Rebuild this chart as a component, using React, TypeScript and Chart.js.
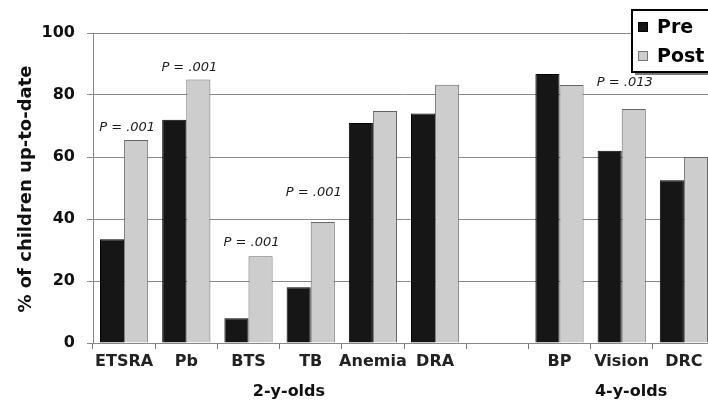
import React, { useEffect, useRef } from "react";
import { Chart, registerables } from "chart.js";

Chart.register(...registerables);

const categories = ["ETSRA", "Pb", "BTS", "TB", "Anemia", "DRA", "", "BP", "Vision", "DRC"];
const preValues = [33.5, 72, 8, 18, 71, 74, null, 86.8, 62, 52.5];
const postValues = [65.5, 85, 28, 39, 74.8, 83.3, null, 83.2, 75.5, 60];
const yTicks = [0, 20, 40, 60, 80, 100];

const annotCategory = [0, 1, 2, 3, 8];
const annotText = ["P = .001", "P = .001", "P = .001", "P = .001", "P = .013"];
const annotLevel = [69.4, 88.7, 32.3, 48.4, 84];

const groupLabels = ["2-y-olds", "4-y-olds"];
const groupPositions = [2.65, 8.15];

const legendLabels = ["Pre", "Post"];
const preColor = "#161616";
const postColor = "#cdcdcd";

const FONT = "'DejaVu Sans', sans-serif";

const overlayPlugin = {
  id: "overlay",
  afterDraw(chart: any) {
    const ctx = chart.ctx;
    const x = chart.scales.x;
    const y = chart.scales.y;
    const area = chart.chartArea;
    ctx.save();
    // P annotations
    ctx.font = `oblique 13px ${FONT}`;
    ctx.fillStyle = "#1a1a1a";
    ctx.textAlign = "center";
    ctx.textBaseline = "middle";
    const meta = chart.getDatasetMeta(1);
    annotCategory.forEach((c, i) => {
      const bar = meta.data[c];
      const cx = bar.x - 9;
      ctx.fillText(annotText[i], cx, y.getPixelForValue(annotLevel[i]));
    });
    // group labels
    ctx.font = `bold 16px ${FONT}`;
    ctx.fillStyle = "#111";
    groupLabels.forEach((g, i) => {
      ctx.fillText(g, x.getPixelForValue(groupPositions[i]), 392);
    });
    // y title
    ctx.save();
    ctx.translate(26, (area.top + area.bottom) / 2 + 1);
    ctx.rotate(-Math.PI / 2);
    ctx.font = `bold 18px ${FONT}`;
    ctx.fillText("% of children up-to-date", 0, 0);
    ctx.restore();
    // legend
    const lx = 632, ly = 10, lw = 84, lh = 62;
    ctx.fillStyle = "#777";
    ctx.fillRect(lx + 3, ly + 3, lw, lh);
    ctx.fillStyle = "#fff";
    ctx.fillRect(lx, ly, lw, lh);
    ctx.lineWidth = 2;
    ctx.strokeStyle = "#000";
    ctx.strokeRect(lx, ly, lw, lh);
    const colors = [preColor, postColor];
    const strokes = ["#000", "#777"];
    legendLabels.forEach((lab, i) => {
      const cy = 27 + i * 29;
      ctx.fillStyle = colors[i];
      ctx.fillRect(638, cy - 5, 10, 10);
      ctx.lineWidth = 1;
      ctx.strokeStyle = strokes[i];
      ctx.strokeRect(638.5, cy - 4.5, 9, 9);
      ctx.fillStyle = "#000";
      ctx.font = `bold 19px ${FONT}`;
      ctx.textAlign = "left";
      ctx.fillText(lab, 657, cy + 1);
    });
    ctx.restore();
  },
};

export default function App() {
  const ref = useRef<HTMLCanvasElement>(null);
  useEffect(() => {
    document.body.style.margin = "0";
    const chart = new Chart(ref.current!, {
      type: "bar",
      data: {
        labels: categories,
        datasets: [
          {
            label: legendLabels[0],
            data: preValues,
            backgroundColor: preColor,
            borderColor: "#000",
            borderWidth: 1,
            categoryPercentage: 0.775,
            barPercentage: 1,
          },
          {
            label: legendLabels[1],
            data: postValues,
            backgroundColor: postColor,
            borderColor: "#666",
            borderWidth: 1,
            categoryPercentage: 0.775,
            barPercentage: 1,
          },
        ],
      },
      options: {
        animation: false,
        responsive: false,
        maintainAspectRatio: false,
        layout: { padding: { top: 33, right: 5, left: 0, bottom: 0 } },
        plugins: { legend: { display: false }, tooltip: { enabled: false } },
        scales: {
          x: {
            offset: true,
            grid: { drawOnChartArea: false, offset: true, tickLength: 6, color: "#777" },
            border: { color: "#888" },
            ticks: { font: { family: FONT, size: 16, weight: "bold" }, color: "#222", padding: 3, maxRotation: 0, autoSkip: false },
            afterFit: (s: any) => { s.height = 61; },
          },
          y: {
            min: 0,
            max: 100,
            afterBuildTicks: (s: any) => { s.ticks = yTicks.map((v) => ({ value: v })); },
            grid: { color: "#8a8a8a", tickLength: 6 },
            border: { color: "#888" },
            ticks: { font: { family: FONT, size: 16, weight: "bold" }, color: "#111", padding: 12 },
            afterFit: (s: any) => { s.width = 93; },
          },
        },
      },
      plugins: [overlayPlugin],
    });
    return () => chart.destroy();
  }, []);
  return (
    <div style={{ width: 708, height: 404, overflow: "hidden", position: "relative", background: "#fff" }}>
      <canvas ref={ref} width={720} height={404} style={{ display: "block", width: 720, height: 404 }} />
    </div>
  );
}
